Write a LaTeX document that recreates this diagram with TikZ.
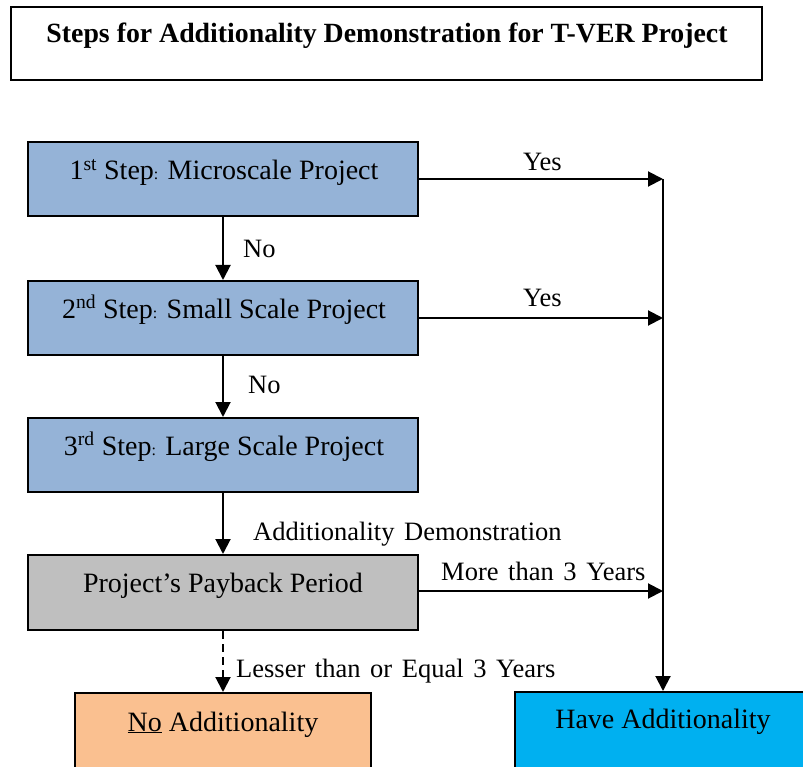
\documentclass[tikz,border=0pt]{standalone}
\usepackage{fontspec}
\setmainfont{Liberation Serif}
\usetikzlibrary{arrows.meta}
\definecolor{stepblue}{HTML}{95B3D7}
\definecolor{paygrey}{HTML}{BFBFBF}
\definecolor{noorange}{HTML}{FAC090}
\definecolor{haveblue}{HTML}{00B0F0}
\newcommand{\lblfont}{\fontsize{26.5}{30}\selectfont\spaceskip=9.6pt plus 1pt minus 1pt\relax}
\tikzset{
  boxbase/.style={draw=black, line width=2pt, inner sep=0pt, rectangle},
  stepbox/.style={boxbase, fill=stepblue, minimum width=390pt, minimum height=74pt},
  boxtext/.style={anchor=base, inner sep=0pt, font=\fontsize{28}{32}\selectfont},
  lbl/.style={anchor=base west, inner sep=0pt},
  conn/.style={line width=2pt, -{Triangle[length=15pt,width=15pt]}},
}
\newcommand{\smcolon}{{\fontsize{16}{16}\selectfont:}}
\begin{document}
\begin{tikzpicture}[x=1pt,y=-1pt]
\clip (0,0) rectangle (803,767);
\fill[white] (0,0) rectangle (803,767);
% title
\node[boxbase, fill=white, minimum width=751pt, minimum height=73pt] (title) at (386.5,43.5) {};
\node[anchor=base, inner sep=0pt, font=\fontsize{27.8}{32}\bfseries\selectfont] (titletext) at (387,43) {Steps for Additionality Demonstration for T-VER Project};
% boxes
\node[stepbox] (b1) at (223,179) {};
\node[boxtext] (t1) at (224,180) {1\textsuperscript{st} Step\smcolon{} Microscale Project};
\node[stepbox] (b2) at (223,318) {};
\node[boxtext] (t2) at (224,318) {2\textsuperscript{nd} Step\smcolon{} Small Scale Project};
\node[stepbox] (b3) at (223,455) {};
\node[boxtext] (t3) at (224,455) {3\textsuperscript{rd} Step\smcolon{} Large Scale Project};
\node[boxbase, fill=paygrey, minimum width=390pt, minimum height=75pt] (b4) at (223,592.5) {};
\node[boxtext] (t4) at (223,592) {Project’s Payback Period};
\node[boxbase, fill=noorange, minimum width=296pt, minimum height=80pt] (b5) at (223,733) {};
\node[boxtext] (t5) at (223,731) {\underline{No} Additionality};
\node[boxbase, fill=haveblue, minimum width=296pt, minimum height=80pt] (b6) at (663,732) {};
\node[boxtext] (t6) at (663,728) {Have Additionality};
% junction coordinates
\coordinate (j1) at (663,179);
\coordinate (j2) at (663,318);
\coordinate (j4) at (663,591);
% vertical connectors
\draw[conn] (b1.south -| 223,0) -- (b2.north -| 223,0);
\draw[conn] (b2.south -| 223,0) -- (b3.north -| 223,0);
\draw[conn] (b3.south -| 223,0) -- (b4.north -| 223,0);
\draw[conn, dashed, dash pattern=on 8pt off 5pt] (b4.south -| 223,0) -- (b5.north -| 223,0);
% horizontal connectors
\draw[conn] (b1.east |- j1) -- (j1);
\draw[conn] (b2.east |- j2) -- (j2);
\draw[conn] (b4.east |- j4) -- (j4);
\draw[conn] (j1) -- (b6.north);
% labels
\node[lbl] (l1) at (243,258) {\lblfont No};
\node[lbl] (l2) at (248,393) {\lblfont No};
\node[lbl] (l3) at (523,171) {\lblfont Yes};
\node[lbl] (l4) at (523,307) {\lblfont Yes};
\node[lbl] (l5) at (253,540) {\lblfont Additionality Demonstration};
\node[lbl] (l6) at (441,580) {\lblfont More than 3 Years};
\node[lbl] (l7) at (236,677) {\lblfont Lesser than or Equal 3 Years};
\end{tikzpicture}
\end{document}
